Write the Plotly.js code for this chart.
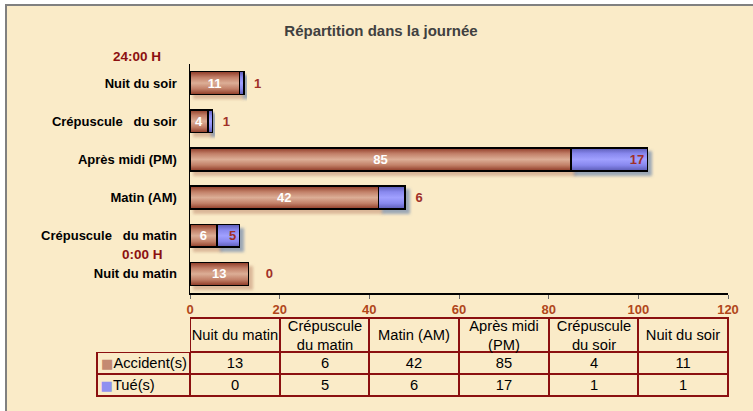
<!DOCTYPE html>
<html><head><meta charset="utf-8">
<script src="https://cdn.plot.ly/plotly-3.0.1.min.js"></script>
<style>
html,body{margin:0;padding:0;background:#fff;width:753px;height:411px;overflow:hidden}
#frame{position:absolute;left:5px;top:4px;width:748px;height:407px;border-top:2px solid #808080;border-left:2px solid #808080;background:#faebc8;}
#chart{position:absolute;left:0;top:0;width:746px;height:405px}
</style></head>
<body><div id="frame"><div id="chart"></div></div>
<script>
// ---- data ----
const categories = ['Nuit du matin','Crépuscule\u00a0\u00a0\u00a0du matin','Matin (AM)','Après midi (PM)','Crépuscule\u00a0\u00a0\u00a0du soir','Nuit du soir'];
const tableHeaders = ['Nuit du matin','Crépuscule<br>du matin','Matin (AM)','Après midi<br>(PM)','Crépuscule<br>du soir','Nuit du soir'];
const accidents = [13, 6, 42, 85, 4, 11];
const tues = [0, 5, 6, 17, 1, 1];
const seriesNames = ['Accident(s)', 'Tué(s)'];
const xTickVals = [0, 20, 40, 60, 80, 100, 120];
const chartTitle = 'Répartition dans la journée';
const timeMarks = ['24:00 H', '0:00 H'];

// ---- style / layout constants ----
const FONT = 'Liberation Sans, Arial, sans-serif';
const W = 746, H = 405;
const BG = '#faebc8';
const accColor = '#c48a72', tueColor = '#9090f0';
const darkRed = '#8b1010';
const tuePos = ['outside','inside','outside','inside','outside','outside'];

const trAcc = {
  type: 'bar', orientation: 'h', name: seriesNames[0],
  y: categories, x: accidents,
  text: accidents.map(String), textposition: 'inside', insidetextanchor: 'middle',
  constraintext: 'none', textangle: 0,
  insidetextfont: {family: FONT, size: 13, color: '#ffffff', weight: 700},
  marker: {color: accColor, line: {color: '#000', width: 1.5}},
  hoverinfo: 'skip', cliponaxis: false
};
const trTue = {
  type: 'bar', orientation: 'h', name: seriesNames[1],
  y: categories, x: tues,
  text: tues.map((v,i) => tuePos[i] === 'outside' ? (v === 0 ? '\u00a0\u00a0\u00a0\u00a0' : '\u00a0\u00a0') + v : String(v)),
  textposition: tuePos, insidetextanchor: 'end', constraintext: 'none', textangle: 0,
  textfont: {family: FONT, size: 13, color: '#a03028', weight: 700},
  marker: {color: tueColor, line: {color: '#000', width: 1.5}},
  hoverinfo: 'skip', cliponaxis: false
};

// ---- data table drawn as a heatmap grid on its own axes ----
const labelColW = 93, tableW = 631;
const colW = (tableW - labelColW) / tableHeaders.length;
const xEdges = [0, labelColW];
tableHeaders.forEach(() => xEdges.push(xEdges[xEdges.length - 1] + colW));
const rowH = [34, 22, 22];
const yEdges = [0];
rowH.forEach(h => yEdges.push(yEdges[yEdges.length - 1] + h));
const tableH = yEdges[yEdges.length - 1];

const key = (c, t, pad) => '<span style="color:' + c + ';font-family:DejaVu Sans;font-size:13px">■</span>' + t + '\u00a0'.repeat(pad);
const cellText = [
  [''].concat(tableHeaders),
  [key(accColor, seriesNames[0], 0)].concat(accidents.map(String)),
  [key(tueColor, seriesNames[1], 8)].concat(tues.map(String))
];
const cellZ = cellText.map((row, r) => row.map((t, c) => (r === 0 && c === 0) ? null : 1));
const xEdgesU = xEdges.map((e, i) => i === 0 ? e - 1 : (i === xEdges.length - 1 ? e + 1 : e));
const yEdgesU = yEdges.map((e, i) => i === 0 ? e - 1 : (i === yEdges.length - 1 ? e + 1 : e));

const gridLines = {
  type: 'heatmap', xaxis: 'x2', yaxis: 'y2',
  x: xEdgesU, y: yEdgesU, z: cellZ, zmin: 0, zmax: 1,
  colorscale: [[0, darkRed], [1, darkRed]], showscale: false, hoverinfo: 'skip'
};
const gridCells = {
  type: 'heatmap', xaxis: 'x2', yaxis: 'y2',
  x: xEdges, y: yEdges, z: cellZ, zmin: 0, zmax: 1,
  xgap: 2, ygap: 2,
  colorscale: [[0, BG], [1, BG]], showscale: false, hoverinfo: 'skip',
  text: cellText, texttemplate: '%{text}',
  textfont: {family: FONT, size: 14.7, color: '#000'}
};

const layout = {
  width: W, height: H,
  margin: {l: 0, r: 0, t: 0, b: 0},
  paper_bgcolor: BG, plot_bgcolor: 'rgba(0,0,0,0)',
  barmode: 'stack', bargap: 0.4, showlegend: false,
  font: {family: FONT, color: '#000'},
  title: {text: chartTitle, x: 374/W, xanchor: 'center', y: 1 - 25/H, yanchor: 'middle',
          font: {family: FONT, size: 15, color: '#404040', weight: 700}},
  xaxis: {
    domain: [183/W, 721/W], range: [0, 120], tickvals: xTickVals,
    showgrid: false, zeroline: false, showline: true, linecolor: '#000', linewidth: 1.5,
    ticks: 'outside', ticklen: 4, tickcolor: '#666', tickwidth: 1, ticklabelstandoff: 0,
    tickfont: {family: FONT, size: 13, color: '#b0461a', weight: 700}, fixedrange: true
  },
  yaxis: {
    domain: [1 - 287/H, 1 - 58/H], type: 'category',
    showgrid: false, zeroline: false, showline: true, linecolor: '#000', linewidth: 1.5,
    ticks: '', ticklabelstandoff: 9,
    tickfont: {family: FONT, size: 13, color: '#000', weight: 700}, fixedrange: true
  },
  xaxis2: {domain: [89/W, 722/W], range: [-1, tableW + 1], anchor: 'y2', visible: false, fixedrange: true},
  yaxis2: {domain: [1 - 391/H, 1 - 311/H], range: [tableH + 1, -1], anchor: 'x2', visible: false, fixedrange: true},
  annotations: [
    {text: timeMarks[0], xref: 'paper', yref: 'paper', x: 130/W, y: 1 - 50/H,
     xanchor: 'center', yanchor: 'middle', showarrow: false,
     font: {family: FONT, size: 13.5, color: darkRed, weight: 700}},
    {text: timeMarks[1], xref: 'paper', yref: 'paper', x: 135/W, y: 1 - 248/H,
     xanchor: 'center', yanchor: 'middle', showarrow: false,
     font: {family: FONT, size: 13.5, color: darkRed, weight: 700}}
  ]
};

Plotly.newPlot('chart', [trAcc, trTue, gridLines, gridCells], layout, {displayModeBar: false, staticPlot: true}).then(gd => {
  const svg = gd.querySelector('.main-svg');
  const NS = 'http://www.w3.org/2000/svg';
  const defs = document.createElementNS(NS, 'defs');
  defs.innerHTML =
    '<linearGradient id="gAcc" x1="0" y1="0" x2="0" y2="1">' +
      '<stop offset="0" stop-color="#8e3a26"/><stop offset="0.25" stop-color="#c28068"/>' +
      '<stop offset="0.5" stop-color="#dcae96"/><stop offset="0.75" stop-color="#c28068"/>' +
      '<stop offset="1" stop-color="#8e3a26"/></linearGradient>' +
    '<linearGradient id="gTue" x1="0" y1="0" x2="0" y2="1">' +
      '<stop offset="0" stop-color="#5a5ab4"/><stop offset="0.25" stop-color="#8888ee"/>' +
      '<stop offset="0.5" stop-color="#a0a0ff"/><stop offset="0.75" stop-color="#8888ee"/>' +
      '<stop offset="1" stop-color="#5a5ab4"/></linearGradient>' +
    '<filter id="shAcc" x="-50%" y="-50%" width="200%" height="200%">' +
      '<feDropShadow dx="4" dy="4" stdDeviation="1.5" flood-color="#c49478" flood-opacity="0.6"/></filter>' +
    '<filter id="shTue" x="-50%" y="-50%" width="200%" height="200%">' +
      '<feDropShadow dx="4" dy="4" stdDeviation="1.5" flood-color="#5f7aa8" flood-opacity="0.6"/></filter>';
  svg.insertBefore(defs, svg.firstChild);
  const traces = gd.querySelectorAll('.barlayer .trace.bars');
  const grads = ['url(#gAcc)', 'url(#gTue)'];
  const shs = ['url(#shAcc)', 'url(#shTue)'];
  traces.forEach((t, i) => {
    t.querySelectorAll('.point path').forEach(p => {
      p.style.fill = grads[i];
      p.setAttribute('filter', shs[i]);
    });
  });
});
</script>
</body></html>
